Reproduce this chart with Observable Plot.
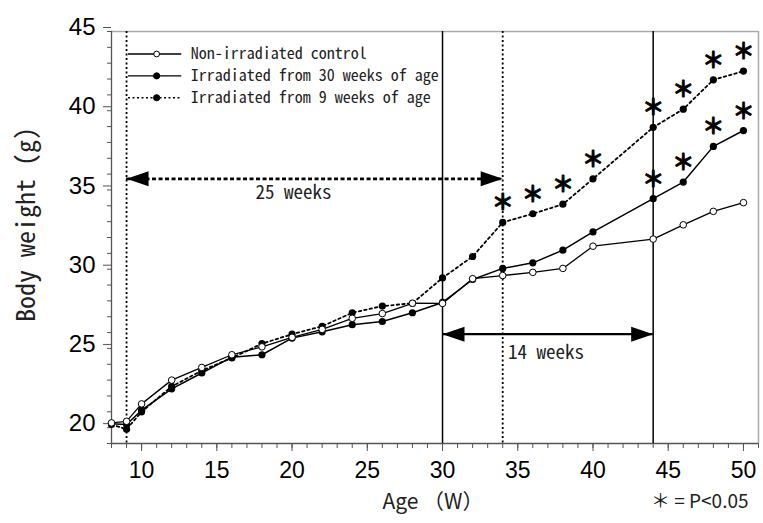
<!DOCTYPE html>
<html>
<head>
<meta charset="utf-8">
<script src="https://cdn.jsdelivr.net/npm/d3@7"></script>
<script src="https://cdn.jsdelivr.net/npm/@observablehq/plot@0.6"></script>
<style>
  html, body { margin: 0; padding: 0; background: #fff; }
  #chart { width: 763px; height: 523px; }
</style>
</head>
<body>
<div id="chart"></div>
<script>
// ---- data ----
const weeks   = [8, 9, 10, 12, 14, 16, 18, 20, 22, 24, 26, 28, 30, 32, 34, 36, 38, 40, 44, 46, 48, 50];
const control = [20.3, 20.4, 21.5, 23.0, 23.8, 24.6, 25.1, 25.7, 26.2, 26.9, 27.2, 27.85, 27.84, 29.4, 29.6, 29.8, 30.05, 31.45, 31.9, 32.8, 33.65, 34.2];
const irr30   = [20.25, 20.2, 21.1, 22.45, 23.45, 24.45, 24.6, 25.65, 26.05, 26.5, 26.7, 27.25, 27.9, 29.35, 30.05, 30.4, 31.2, 32.35, 34.45, 35.5, 37.75, 38.75];
const irr9    = [20.2, 19.9, 21.0, 22.6, 23.6, 24.4, 25.3, 25.9, 26.4, 27.25, 27.67, 27.85, 29.45, 30.8, 32.95, 33.5, 34.1, 35.7, 38.95, 40.1, 41.95, 42.5];
const sig9Weeks  = [34, 36, 38, 40, 44, 46, 48, 50];
const sig30Weeks = [44, 46, 48, 50];
const seriesNames = ["Non-irradiated control", "Irradiated from 30 weeks of age", "Irradiated from 9 weeks of age"];
const solidMarkers  = [30, 44];
const dottedMarkers = [9, 34];
const spanFrom   = [9, 30];
const spanTo     = [34, 44];
const spanLevel  = [35.7, 25.9];
const spanLabels = ["25 weeks", "14 weeks"];
const spanLabelX = [20.1, 34.35];
const spanLabelY = [34.8, 24.7];
const yMajor = [20, 25, 30, 35, 40, 45];
const xMajor = [10, 15, 20, 25, 30, 35, 40, 45, 50];

// ---- derived tables ----
const table = (vals) => weeks.map((w, i) => ({week: w, value: vals[i]}));
const ctrlData = table(control), i30Data = table(irr30), i9Data = table(irr9);
const lookup = (vals) => (w) => ({week: w, value: vals[weeks.indexOf(w)]});
const star9  = sig9Weeks.map(lookup(irr9));
const star30 = sig30Weeks.map(lookup(irr30));
const spans = spanFrom.map((f, i) => ({from: f, to: spanTo[i], level: spanLevel[i], label: spanLabels[i], lx: spanLabelX[i], ly: spanLabelY[i]}));

// legend rows placed inside the upper-left of the frame
const legendX1 = 9.13, legendX2 = 12.67, legendXm = 11.0, legendXt = 13.27;
const legendRows = seriesNames.map((name, i) => ({name, y: 43.58 - i * 1.38, i}));

const mono = "'Noto Sans Mono CJK JP', 'DejaVu Sans Mono', monospace";
const num  = "'Liberation Sans', Arial, sans-serif";
const jp   = "'Noto Sans CJK JP', 'Noto Sans', sans-serif";

const leftHead  = {draw(ctx) { ctx.moveTo(0, 0); ctx.lineTo(22, -7.5); ctx.lineTo(22, 7.5); ctx.closePath(); }};
const rightHead = {draw(ctx) { ctx.moveTo(0, 0); ctx.lineTo(-22, -7.5); ctx.lineTo(-22, 7.5); ctx.closePath(); }};

const chart = Plot.plot({
  width: 763,
  height: 523,
  marginLeft: 111,
  marginRight: 5,
  marginTop: 31,
  marginBottom: 80,
  x: {domain: [8, 51]},
  y: {domain: [19, 45]},
  style: {background: "#fff", color: "#000", fontFamily: num},
  marks: [
    // frame
    Plot.ruleY([45], {stroke: "#aaa", strokeWidth: 1.5}),
    Plot.ruleX([51], {stroke: "#aaa", strokeWidth: 1.5}),
    // axes
    Plot.axisY({ticks: d3.range(19, 46), tickSize: 4, tickFormat: () => "", stroke: "#555"}),
    Plot.axisY({ticks: yMajor, tickSize: 8, tickPadding: 8, fontSize: 24, dy: -4, stroke: "#555", fill: "#000", fontFamily: num}),
    Plot.axisX({ticks: d3.range(8, 52), tickSize: 5, tickFormat: () => "", stroke: "#555"}),
    Plot.axisX({ticks: xMajor, tickSize: 8, tickPadding: 10, fontSize: 23, stroke: "#555", fill: "#000", fontFamily: num}),
    Plot.ruleX([8], {stroke: "#555", strokeWidth: 1.3}),
    Plot.ruleY([19], {stroke: "#555", strokeWidth: 1.3}),
    // vertical reference lines
    Plot.ruleX(solidMarkers, {stroke: "#000", strokeWidth: 1.5}),
    Plot.ruleX(dottedMarkers, {stroke: "#000", strokeWidth: 1.8, strokeDasharray: "2,2.5"}),
    // span arrows
    Plot.ruleY(spans.slice(0, 1), {x1: "from", x2: "to", y: "level", stroke: "#000", strokeWidth: 2.6, strokeDasharray: "4,2.5"}),
    Plot.ruleY(spans.slice(1), {x1: "from", x2: "to", y: "level", stroke: "#000", strokeWidth: 2.2}),
    Plot.dot(spans, {x: "from", y: "level", symbol: leftHead, fill: "#000", stroke: "none"}),
    Plot.dot(spans, {x: "to", y: "level", symbol: rightHead, fill: "#000", stroke: "none"}),
    Plot.text(spans.slice(0, 1), {x: "lx", y: "ly", text: "label", textAnchor: "middle", fontSize: 19, fontFamily: mono, fill: "#222"}),
    Plot.text(spans.slice(1), {x: "lx", y: "ly", text: "label", textAnchor: "start", fontSize: 19, fontFamily: mono, fill: "#222"}),
    // series lines
    Plot.line(ctrlData, {x: "week", y: "value", stroke: "#000", strokeWidth: 1.3}),
    Plot.line(i30Data, {x: "week", y: "value", stroke: "#000", strokeWidth: 1.5}),
    Plot.line(i9Data, {x: "week", y: "value", stroke: "#000", strokeWidth: 1.8, strokeDasharray: "2.5,3"}),
    // series points
    Plot.dot(i9Data, {x: "week", y: "value", r: 3.6, fill: "#000", stroke: "none"}),
    Plot.dot(i30Data, {x: "week", y: "value", r: 3.6, fill: "#000", stroke: "none"}),
    Plot.dot(ctrlData, {x: "week", y: "value", r: 3.3, fill: "#fff", stroke: "#000", strokeWidth: 1}),
    // significance stars
    Plot.text(star9,  {x: "week", y: "value", text: () => "＊", dy: -19, fontSize: 22, fontWeight: "bold", fontFamily: jp, fill: "#000", stroke: "#000", strokeWidth: 0.9}),
    Plot.text(star30, {x: "week", y: "value", text: () => "＊", dy: -19, fontSize: 22, fontWeight: "bold", fontFamily: jp, fill: "#000", stroke: "#000", strokeWidth: 0.9}),
    // legend
    Plot.ruleY(legendRows.filter(d => d.i < 2), {x1: legendX1, x2: legendX2, y: "y", stroke: "#000", strokeWidth: 1.3}),
    Plot.ruleY(legendRows.filter(d => d.i === 2), {x1: legendX1, x2: legendX2, y: "y", stroke: "#000", strokeWidth: 1.6, strokeDasharray: "2,2.5"}),
    Plot.dot(legendRows, {x: legendXm, y: "y", r: (d) => d.i === 0 ? 2.8 : 3.2, fill: (d) => d.i === 0 ? "#fff" : "#000", stroke: "#000", strokeWidth: 1}),
    Plot.text(legendRows, {x: legendXt, y: "y", text: "name", textAnchor: "start", fontSize: 16, fontFamily: mono, fill: "#222"}),
    // axis titles and note
    Plot.text(["Body weight (g)"], {text: d => d, frameAnchor: "left", textAnchor: "middle", rotate: -90, dx: -85, dy: -13, fontSize: 26, fontFamily: mono, fill: "#222"}),
    Plot.text(["Age （W）"], {text: d => d, frameAnchor: "bottom", textAnchor: "middle", dx: -2, dy: 65, fontSize: 21, fontFamily: jp, fill: "#222"}),
    Plot.text(["＊ = P<0.05"], {text: d => d, frameAnchor: "bottom-right", textAnchor: "end", dx: -10, dy: 64, fontSize: 19, fontFamily: jp, fill: "#222"})
  ]
});
document.getElementById("chart").appendChild(chart);
</script>
</body>
</html>
